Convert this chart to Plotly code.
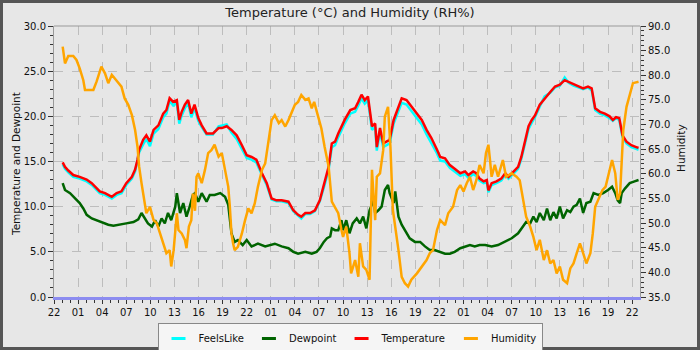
import plotly.graph_objects as go

# ---------------- data (hours since 22:00 on day 1) ----------------
tick_labels = ["22", "01", "04", "07", "10", "13", "16", "19",
               "22", "01", "04", "07", "10", "13", "16", "19",
               "22", "01", "04", "07", "10", "13", "16", "19", "22"]

temp_hours = [1.08, 1.37, 1.78, 2.4, 3.2, 4.07, 4.7, 5.3, 5.7, 6.35, 6.76, 7.2, 7.8, 8.4, 9.0, 9.7,
              10.1, 10.4, 10.6, 11.1, 11.5, 11.95, 12.4, 13.0, 13.6, 14.0, 14.4, 14.85, 15.3, 15.6,
              15.9, 16.3, 16.7, 17.1, 17.5, 17.97, 18.4, 19.0, 19.8, 20.5, 20.9, 21.5, 22.1, 22.75,
              23.4, 24.0, 24.6, 25.2, 25.9, 26.5, 27.1, 27.7, 28.35, 29.2, 29.8, 30.4, 30.8, 31.3,
              31.9, 32.5, 33.1, 33.7, 34.2, 34.6, 35.0, 35.4, 36.2, 36.9, 37.5, 37.9, 38.3, 38.7,
              39.1, 39.6, 40.0, 40.2, 40.6, 41.0, 41.4, 41.8, 42.3, 42.9, 43.3, 43.9, 44.5, 45.2,
              45.8, 46.4, 47.0, 47.7, 48.1, 48.7, 49.3, 49.9, 50.6, 51.2, 51.6, 52.2, 52.6, 53.0,
              53.5, 53.9, 54.1, 54.5, 55.1, 55.7, 56.2, 56.6, 57.2, 57.8, 58.2, 58.7, 59.1, 59.5,
              59.9, 60.5, 61.1, 61.8, 62.4, 63.0, 63.6, 64.1, 64.7, 65.3, 65.9, 66.5, 66.96, 67.4,
              68.0, 68.6, 69.2, 69.6, 70.0, 70.4, 70.8, 71.3, 71.9, 72.5, 72.8]

temperature = [14.9, 14.4, 14.0, 13.5, 13.3, 13.0, 12.6, 12.0, 11.7, 11.5, 11.3, 11.1, 11.5, 11.7, 12.6, 13.3,
               14.1, 15.2, 16.3, 17.4, 17.9, 17.2, 18.5, 19.0, 20.3, 20.7, 22.0, 21.6, 21.8, 19.6,
               20.5, 21.3, 21.8, 20.3, 21.3, 19.8, 19.0, 18.1, 18.1, 18.7, 18.7, 18.9, 18.5, 17.9,
               16.8, 15.7, 15.5, 15.2, 13.7, 12.6, 10.9, 10.7, 10.7, 10.55, 9.6, 9.1, 8.9, 9.3,
               9.3, 9.6, 10.7, 12.6, 14.4, 17.0, 17.2, 18.1, 19.6, 20.7, 20.9, 21.6, 22.4, 21.8,
               22.2, 18.9, 19.2, 16.6, 18.7, 17.0, 17.2, 17.4, 19.6, 21.1, 22.0, 21.8, 21.1, 20.3,
               19.6, 18.5, 17.6, 16.3, 15.5, 15.35, 14.6, 14.2, 13.7, 13.9, 13.5, 13.9, 13.7, 13.1,
               12.8, 12.95, 11.8, 12.6, 12.8, 13.1, 13.7, 13.3, 13.9, 14.4, 15.5, 17.6, 18.9, 19.6,
               20.1, 21.3, 22.0, 22.7, 23.3, 23.5, 24.0, 23.8, 23.5, 23.3, 23.1, 23.3, 23.1, 20.9,
               20.5, 20.3, 20.0, 19.6, 19.9, 19.8, 17.9, 17.2, 16.8, 16.6, 16.5]

feelslike = [14.7, 14.2, 13.8, 13.3, 13.1, 12.8, 12.4, 11.8, 11.5, 11.3, 11.1, 10.9, 11.3, 11.5, 12.4, 13.1,
             13.9, 15.0, 16.0, 16.9, 17.5, 16.7, 18.1, 18.6, 19.9, 20.3, 21.7, 21.2, 21.5, 19.2,
             20.1, 20.9, 21.5, 19.9, 20.9, 19.5, 18.8, 18.0, 18.0, 18.9, 19.0, 19.1, 18.2, 17.5,
             16.4, 15.4, 15.2, 14.9, 13.5, 12.4, 10.8, 10.6, 10.6, 10.4, 9.5, 9.0, 8.7, 9.2,
             9.2, 9.5, 10.6, 12.4, 14.1, 16.6, 16.8, 17.7, 19.2, 20.3, 20.5, 21.2, 22.0, 21.4,
             21.8, 18.5, 18.8, 16.2, 18.3, 16.6, 16.8, 17.0, 19.2, 20.7, 21.5, 21.3, 20.6, 19.8,
             19.1, 18.0, 17.1, 15.9, 15.1, 15.0, 14.3, 13.9, 13.4, 13.6, 13.2, 13.6, 13.4, 12.9,
             12.6, 12.7, 11.6, 12.4, 12.6, 12.9, 13.5, 13.1, 13.7, 14.2, 15.3, 17.3, 18.6, 19.3,
             19.9, 21.1, 22.2, 22.6, 23.2, 23.4, 24.3, 23.7, 23.4, 23.2, 23.0, 23.2, 22.9, 20.7,
             20.3, 20.1, 19.8, 19.5, 19.8, 19.6, 17.7, 17.0, 16.6, 16.4, 16.3]

dew_hours = [1.08, 1.37, 2.0, 2.6, 3.2, 3.65, 4.07, 4.7, 5.3, 6.1, 6.76, 7.4, 8.2, 9.0, 9.9, 10.5, 10.9,
             11.3, 11.7, 12.2, 12.6, 13.0, 13.4, 13.8, 14.2, 14.6, 15.1, 15.3, 15.7, 16.1, 16.5,
             16.9, 17.3, 17.56, 17.97, 18.4, 19.0, 19.4, 20.0, 20.7, 21.3, 21.7, 21.9, 22.1, 22.5,
             22.9, 23.5, 24.0, 24.6, 25.4, 26.3, 26.9, 27.5, 28.35, 29.2, 29.8, 30.4, 31.3, 32.1,
             32.7, 33.1, 33.6, 34.0, 34.4, 34.6, 35.0, 35.4, 35.8, 36.0, 36.4, 36.8, 37.2, 37.7,
             38.1, 38.5, 38.9, 39.3, 39.8, 40.0, 40.4, 40.8, 41.2, 41.6, 41.8, 42.3, 42.5, 42.9,
             43.3, 43.7, 44.3, 44.95, 45.6, 46.2, 46.8, 47.4, 48.1, 48.7, 49.3, 49.9, 50.6, 51.2,
             51.8, 52.4, 53.0, 53.7, 54.5, 55.3, 56.2, 57.0, 57.8, 58.4, 58.8, 59.3, 59.7, 60.1,
             60.5, 61.0, 61.4, 61.8, 62.2, 62.6, 63.0, 63.4, 63.9, 64.3, 64.7, 65.1, 65.5, 65.9,
             66.3, 66.8, 67.2, 67.8, 68.4, 69.0, 69.5, 69.9, 70.2, 70.5, 70.7, 71.1, 71.7, 72.3, 72.8]

dewpoint = [12.6, 11.85, 11.5, 10.9, 10.4, 9.8, 9.1, 8.7, 8.5, 8.3, 8.0, 7.9, 8.0, 8.15, 8.3, 8.6, 9.3,
            8.7, 8.15, 7.8, 8.5, 7.8, 8.7, 8.15, 9.3, 8.5, 10.0, 11.5, 9.3, 10.4, 8.9,
            10.0, 11.3, 11.5, 10.55, 11.5, 10.55, 11.3, 11.3, 11.5, 11.1, 10.2, 8.5, 7.05, 6.1,
            6.3, 5.75, 6.3, 5.6, 5.9, 5.6, 5.75, 5.9, 5.6, 5.4, 5.0, 4.8, 5.0, 4.8,
            5.0, 5.4, 6.1, 6.5, 6.7, 7.6, 7.4, 7.4, 8.5, 7.4, 8.5, 7.05, 8.15, 8.7,
            8.15, 8.9, 7.6, 9.6, 10.7, 9.3, 9.6, 10.0, 11.85, 12.4, 11.5, 10.4, 11.7, 8.9,
            8.0, 7.4, 6.5, 6.1, 6.1, 5.6, 5.2, 5.2, 5.0, 4.8, 4.8, 5.0, 5.4, 5.6,
            5.75, 5.6, 5.75, 5.75, 5.6, 5.75, 6.1, 6.5, 7.05, 7.8, 8.3, 8.15, 8.9, 8.3,
            9.3, 8.5, 9.8, 8.5, 9.4, 8.7, 10.0, 8.7, 9.6, 9.4, 10.0, 10.2, 10.9, 9.3,
            10.4, 10.55, 11.5, 11.3, 11.5, 11.85, 12.2, 11.5, 10.7, 10.4, 11.5, 12.0, 12.6, 12.8, 12.95]

hum_hours = [1.08, 1.16, 1.37, 1.78, 2.4, 2.8, 3.2, 3.65, 3.86, 4.5, 4.9, 5.3, 5.7, 5.9, 6.35, 6.76,
             7.2, 7.8, 8.4, 8.8, 9.25, 9.7, 10.1, 10.4, 10.6, 10.9, 11.3, 11.5, 11.95, 12.4, 12.8,
             13.2, 13.6, 14.0, 14.4, 14.6, 14.9, 15.3, 15.5, 15.9, 16.3, 16.5, 16.8, 17.1, 17.3,
             17.56, 17.75, 17.97, 18.4, 18.8, 19.2, 19.6, 20.0, 20.5, 20.9, 21.3, 21.7, 21.9, 22.1,
             22.3, 22.5, 22.9, 23.4, 23.8, 24.2, 24.6, 25.0, 25.4, 25.9, 26.3, 26.7, 27.1, 27.5,
             28.0, 28.35, 28.8, 29.2, 29.6, 30.0, 30.4, 30.8, 31.3, 31.7, 32.1, 32.4, 32.9, 33.3,
             33.7, 34.2, 34.6, 35.0, 35.4, 35.8, 36.0, 36.4, 36.8, 37.0, 37.5, 37.9, 38.1, 38.5,
             38.9, 39.3, 39.6, 39.8, 40.0, 40.2, 40.6, 41.0, 41.2, 41.6, 41.9, 42.2, 42.5, 42.9,
             43.3, 43.7, 44.1, 44.5, 45.2, 45.8, 46.4, 46.8, 47.2, 47.7, 48.1, 48.7, 49.1, 49.7,
             50.2, 50.6, 51.0, 51.4, 51.8, 52.2, 52.6, 53.0, 53.5, 53.8, 54.1, 54.3, 54.5, 54.9,
             55.3, 55.9, 56.3, 57.0, 57.6, 58.0, 58.4, 58.8, 59.3, 59.7, 60.1, 60.5, 61.0, 61.4,
             61.8, 62.2, 62.6, 63.0, 63.4, 63.9, 64.3, 64.7, 65.1, 65.5, 65.9, 66.3, 66.8, 67.1,
             67.4, 67.8, 68.3, 68.7, 69.1, 69.5, 69.9, 70.2, 70.5, 70.7, 70.9, 71.3, 71.7, 72.1, 72.8]

humidity = [85.8, 84.5, 82.4, 83.9, 83.9, 83.1, 81.4, 79.0, 77.0, 77.0, 77.0, 78.7, 81.1, 81.75, 80.4, 78.4,
            80.1, 79.0, 77.7, 75.3, 74.0, 71.9, 68.9, 65.5, 61.5, 58.1, 54.35, 52.0, 53.3, 50.6, 50.0,
            47.9, 45.9, 43.9, 44.5, 41.2, 44.5, 52.0, 48.6, 47.9, 46.6, 44.9, 49.3, 50.6, 56.0,
            52.5, 59.4, 60.1, 58.1, 60.8, 64.2, 64.8, 65.9, 63.5, 64.2, 60.8, 57.4, 53.3, 47.9,
            45.9, 44.5, 45.2, 47.9, 50.6, 53.0, 52.0, 54.0, 57.4, 60.8, 62.1, 66.2, 70.9, 71.9,
            70.3, 70.9, 69.6, 70.9, 72.3, 74.0, 74.6, 76.0, 75.0, 75.3, 73.3, 74.6, 71.6, 69.2,
            65.5, 61.5, 54.35, 53.3, 52.0, 48.6, 47.2, 49.3, 43.9, 39.8, 42.5, 39.1, 45.9, 41.2,
            40.5, 38.5, 60.8, 55.4, 50.6, 59.4, 60.1, 64.8, 71.6, 73.6, 65.5, 52.7, 49.3, 44.5,
            39.1, 37.8, 37.1, 38.5, 39.8, 41.2, 42.5, 43.9, 44.5, 48.6, 50.6, 49.6, 52.0, 53.3,
            56.7, 57.7, 56.4, 58.1, 59.4, 56.7, 58.7, 61.8, 60.1, 64.2, 65.9, 62.8, 59.4, 61.8,
            59.4, 62.8, 59.4, 60.1, 59.4, 58.7, 54.7, 51.3, 49.3, 47.2, 44.5, 46.6, 42.5, 44.5,
            41.8, 42.5, 39.8, 41.2, 38.5, 37.8, 40.8, 41.8, 43.9, 45.9, 43.9, 41.8, 43.9, 47.9,
            53.3, 55.0, 56.7, 57.4, 60.1, 62.8, 60.1, 54.7, 56.0, 62.8, 68.9, 73.6, 76.3, 78.4, 78.7]

series_names = ["FeelsLike", "Dewpoint", "Temperature", "Humidity"]
series_colors = ["#00ffff", "#006400", "#ff0000", "#ffa500"]
left_title = "Temperature and Dewpoint"
right_title = "Humidity"
chart_title = "Temperature (°C) and Humidity (RH%)"

FONT = "DejaVu Sans"

fig = go.Figure()
fig.add_trace(go.Scatter(x=temp_hours, y=feelslike, mode="lines", showlegend=False,
                         line=dict(color=series_colors[0], width=2.5)))
fig.add_trace(go.Scatter(x=dew_hours, y=dewpoint, mode="lines", showlegend=False,
                         line=dict(color=series_colors[1], width=2.5)))
fig.add_trace(go.Scatter(x=temp_hours, y=temperature, mode="lines", showlegend=False,
                         line=dict(color=series_colors[2], width=2.5)))
fig.add_trace(go.Scatter(x=hum_hours, y=humidity, mode="lines", showlegend=False, yaxis="y2",
                         line=dict(color=series_colors[3], width=2.5)))

# legend-only entries (short line symbols like the original)
for name, col in zip(series_names, series_colors):
    fig.add_trace(go.Scatter(x=[None], y=[None], mode="markers", name=name,
                             marker=dict(symbol="line-ew", size=10, color=col,
                                         line=dict(color=col, width=3))))

W, H = 700, 350
L, R, T, B = 54, 60, 26, 53
pw, ph = W - L - R, H - T - B

tickvals = [3 * i for i in range(len(tick_labels))]

fig.update_layout(
    width=W, height=H,
    margin=dict(l=L, r=R, t=T, b=B, autoexpand=False),
    paper_bgcolor="#e7e7e7",
    plot_bgcolor="#e6e6e6",
    font=dict(family=FONT, size=10, color="#111111"),
    title=dict(text=chart_title, x=0.5, xanchor="center",
               y=1 - 12 / H, yanchor="middle", yref="container",
               font=dict(family=FONT, size=13, color="#222222")),
    xaxis=dict(range=[0, 72.98], tickvals=tickvals, ticktext=tick_labels,
               showgrid=True, gridcolor="#bdbdbd", griddash="dash", gridwidth=1,
               ticks="outside", ticklen=4, tickcolor="#333333", tickwidth=1,
               minor=dict(dtick=1, tick0=0, ticks="outside", ticklen=3, tickcolor="#333333", showgrid=False),
               showline=True, linecolor="#8c8cf0", linewidth=2.5, zeroline=False,
               tickfont=dict(size=10, color="#111111")),
    yaxis=dict(range=[0, 30], dtick=5, tick0=0, tickformat=".1f",
               showgrid=True, gridcolor="#bdbdbd", griddash="dash", gridwidth=1,
               ticks="outside", ticklen=5, tickcolor="#333333",
               minor=dict(dtick=1, ticks="outside", ticklen=3, tickcolor="#333333", showgrid=False),
               showline=True, linecolor="#999999", linewidth=1, zeroline=False,
               tickfont=dict(size=10, color="#111111")),
    yaxis2=dict(range=[35, 90], dtick=5, tick0=35, tickformat=".1f", overlaying="y", side="right",
                showgrid=False, ticks="outside", ticklen=5, tickcolor="#333333",
                minor=dict(dtick=1, ticks="outside", ticklen=3, tickcolor="#333333"),
                showline=True, linecolor="#999999", linewidth=1, zeroline=False,
                tickfont=dict(size=10, color="#111111")),
    legend=dict(orientation="h", x=(350 - L) / pw, xanchor="center",
                y=-(323 - (T + ph)) / ph, yanchor="top",
                bgcolor="#f5f5f5", bordercolor="#888888", borderwidth=1,
                font=dict(size=10, color="#111111"), itemwidth=30),
    annotations=[
        dict(text=left_title, xref="paper", yref="paper",
             x=(16 - L) / pw, y=(T + ph - 164) / ph, xanchor="center", yanchor="middle",
             textangle=-90, showarrow=False, font=dict(size=10.5, color="#111111")),
        dict(text=right_title, xref="paper", yref="paper",
             x=(681 - L) / pw, y=(T + ph - 148) / ph, xanchor="center", yanchor="middle",
             textangle=-90, showarrow=False, font=dict(size=10.5, color="#111111")),
    ],
    shapes=[
        # plot-area top frame line
        dict(type="line", xref="paper", yref="paper", x0=0, x1=1, y0=1, y1=1,
             line=dict(color="#999999", width=1)),
        # outer image frame
        dict(type="rect", xref="paper", yref="paper",
             x0=(1.5 - L) / pw, x1=(W - 1.5 - L) / pw,
             y0=-(H - 1.5 - (T + ph)) / ph, y1=(T + ph - 1.5) / ph,
             line=dict(color="#555555", width=3)),
    ],
)

fig.write_html("out.html")
